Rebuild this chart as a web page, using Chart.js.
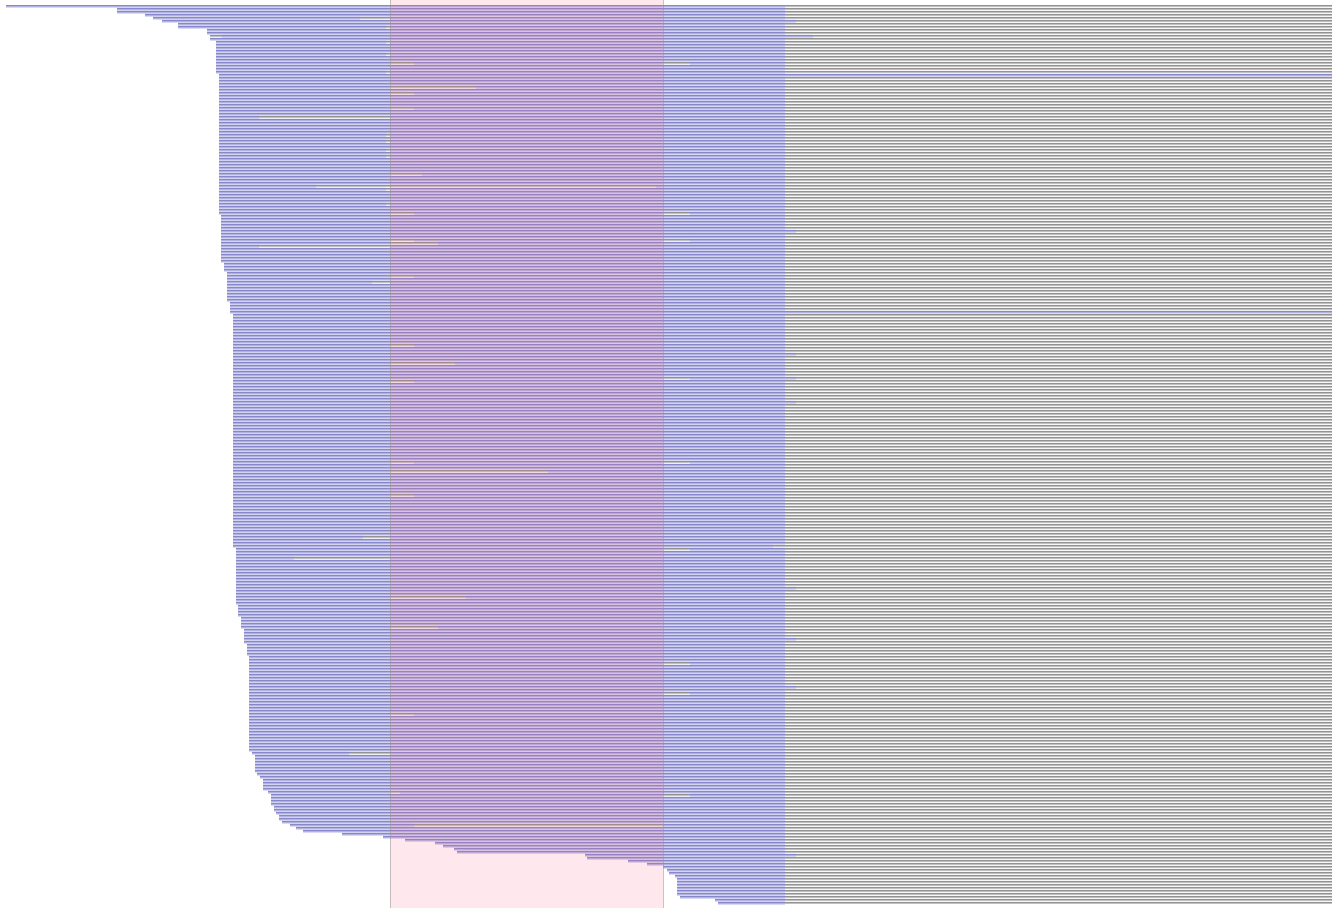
<!DOCTYPE html>
<html>
<head>
<meta charset="utf-8">
<script src="https://cdn.jsdelivr.net/npm/chart.js@4"></script>
<style>
  html, body { margin: 0; padding: 0; background: #fff; }
  #wrap { width: 1332px; height: 908px; }
</style>
</head>
<body>
<div id="wrap"><canvas id="timeline"></canvas></div>
<script>
// start of each row, as [start, number of rows starting there], top to bottom
const startRuns = [
  [6, 1], [117, 2], [145, 1], [153, 1], [162, 1], [178, 2], [207, 2], [210, 2],
  [216, 11], [219, 47], [221, 16], [224, 3], [227, 10], [230, 4], [233, 78],
  [236, 19], [238, 4], [241, 4], [244, 5], [247, 4], [249, 32], [252, 1],
  [255, 6], [257, 1], [260, 1], [263, 4], [268, 1], [271, 4], [274, 2], [276, 1],
  [279, 2], [282, 1], [290, 1], [296, 1], [303, 1], [342, 1], [383, 1], [405, 1],
  [435, 1], [443, 1], [454, 1], [457, 1], [585, 1], [587, 1], [628, 1], [647, 1],
  [663, 1], [667, 1], [669, 1], [675, 1], [677, 6], [680, 1], [715, 1], [718, 1]
];

// where the active span ends; most rows stop at the same point
const defaultEnd = 785;
const endOverrides = [
  [5, 796], [10, 813], [23, 1332], [75, 796], [102, 1332], [116, 796], [124, 796],
  [132, 796], [180, 773], [194, 796], [211, 796], [227, 796], [283, 796]
];

// breaks inside a row's active span: [row, from, to]
const gaps = [
  [4, 360, 390], [7, 386, 390], [10, 210, 222], [12, 386, 390], [16, 386, 390],
  [19, 390, 414], [19, 663, 690], [22, 386, 390], [27, 390, 476], [29, 390, 414],
  [34, 390, 414], [37, 259, 390], [43, 386, 390], [45, 386, 390], [48, 386, 390],
  [50, 386, 390], [56, 390, 422], [60, 316, 656], [61, 386, 390], [66, 386, 390],
  [69, 390, 414], [69, 663, 690], [78, 390, 414], [78, 663, 690], [79, 390, 438],
  [80, 259, 390], [90, 390, 414], [92, 372, 390], [113, 390, 414], [119, 390, 455],
  [124, 663, 690], [125, 390, 414], [152, 390, 414], [152, 663, 690], [155, 390, 548],
  [163, 390, 414], [177, 363, 390], [181, 663, 690], [184, 294, 390], [197, 390, 466],
  [207, 390, 438], [219, 663, 690], [229, 663, 690], [236, 390, 414], [249, 349, 390],
  [262, 390, 400], [263, 663, 690], [273, 414, 663]
];

// highlighted window and right edge of the axis
const windowStart = 390;
const windowEnd = 663;
const axisMax = 1332;

const starts = [];
startRuns.forEach(([x, n]) => { for (let k = 0; k < n; k++) starts.push(x); });
const labels = starts.map((_, i) => 'row ' + (i + 1));

const ends = starts.map(() => defaultEnd);
endOverrides.forEach(([row, x]) => { ends[row] = x; });

// split each active span around its gaps
const segments = starts.map((s, row) => {
  let parts = [[s, ends[row]]];
  gaps.filter(g => g[0] === row).forEach(([, a, b]) => {
    const next = [];
    parts.forEach(([p, q]) => {
      if (b <= p || a >= q) { next.push([p, q]); return; }
      if (a > p) next.push([p, a]);
      if (b < q) next.push([b, q]);
    });
    parts = next;
  });
  return parts;
});
const maxParts = Math.max(...segments.map(p => p.length));

// 3px stripe fill: rows are 3px apart, so each bar gets a mid and a pale line
function stripe(mid, pale) {
  const c = document.createElement('canvas');
  c.width = 1;
  c.height = 3;
  const g = c.getContext('2d');
  g.fillStyle = mid;
  g.fillRect(0, 0, 1, 1);
  g.fillStyle = pale;
  g.fillRect(0, 1, 1, 1);
  g.fillStyle = mid;
  g.fillRect(0, 2, 1, 1);
  return g.createPattern(c, 'repeat');
}
const blueFill = stripe('#b2b2e0', '#dadaf0');
const greyFill = stripe('#c0c0c0', '#ffffff');

const blueSets = [];
for (let k = 0; k < maxParts; k++) {
  blueSets.push({
    label: 'active ' + (k + 1),
    data: segments.map(p => p[k] || null),
    backgroundColor: blueFill,
    borderColor: '#7878c8',
    borderWidth: { top: 1, bottom: 0, left: 0, right: 0 },
    borderSkipped: false,
    barThickness: 3,
    grouped: false,
    order: 1
  });
}

const baseSet = {
  label: 'lifetime',
  data: starts.map(s => [s, axisMax]),
  backgroundColor: greyFill,
  borderColor: '#828282',
  borderWidth: { top: 1, bottom: 0, left: 0, right: 0 },
  borderSkipped: false,
  barThickness: 3,
  grouped: false,
  order: 2
};

// pink band over the window, with thin grey edges
const windowBand = {
  id: 'windowBand',
  afterDatasetsDraw(chart) {
    const { ctx, scales } = chart;
    const x0 = scales.x.getPixelForValue(windowStart);
    const x1 = scales.x.getPixelForValue(windowEnd);
    ctx.save();
    ctx.fillStyle = 'rgba(255, 99, 132, 0.15)';
    ctx.fillRect(x0, 0, x1 - x0, chart.height);
    ctx.strokeStyle = 'rgba(150, 150, 150, 0.55)';
    ctx.lineWidth = 1;
    ctx.beginPath();
    ctx.moveTo(Math.round(x0) + 0.5, 0);
    ctx.lineTo(Math.round(x0) + 0.5, chart.height);
    ctx.moveTo(Math.round(x1) + 0.5, 0);
    ctx.lineTo(Math.round(x1) + 0.5, chart.height);
    ctx.stroke();
    ctx.restore();
  }
};

new Chart(document.getElementById('timeline'), {
  type: 'bar',
  data: { labels: labels, datasets: [...blueSets, baseSet] },
  options: {
    indexAxis: 'y',
    responsive: true,
    maintainAspectRatio: false,
    animation: false,
    layout: { padding: { top: 5, left: 0, right: 0, bottom: 3 } },
    plugins: { legend: { display: false }, tooltip: { enabled: false } },
    scales: {
      x: { type: 'linear', min: 0, max: axisMax, display: false },
      y: { type: 'category', display: false }
    }
  },
  plugins: [windowBand]
});
</script>
</body>
</html>
